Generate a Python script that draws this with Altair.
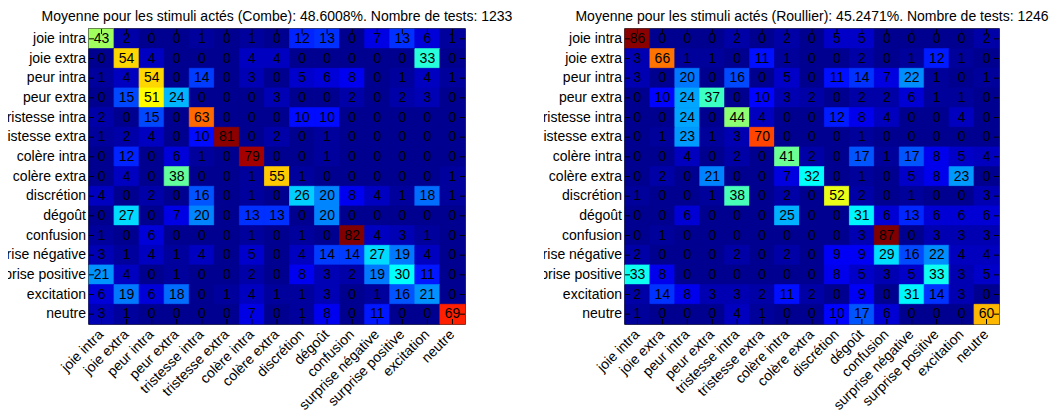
import altair as alt
import pandas as pd

labels = ["joie intra", "joie extra", "peur intra", "peur extra", "tristesse intra",
          "tristesse extra", "colère intra", "colère extra", "discrétion", "dégoût",
          "confusion", "surprise négative", "surprise positive", "excitation", "neutre"]

# Combe: rows = stimulus, columns = answer
combe = [
    [43, 2, 0, 0, 1, 0, 1, 0, 12, 13, 0, 7, 13, 6, 1],
    [0, 54, 4, 0, 0, 0, 4, 4, 0, 0, 0, 0, 0, 33, 0],
    [1, 4, 54, 0, 14, 0, 3, 0, 5, 6, 8, 0, 1, 4, 1],
    [0, 15, 51, 24, 0, 0, 0, 3, 0, 0, 2, 0, 2, 3, 0],
    [2, 0, 15, 0, 63, 0, 0, 0, 10, 10, 0, 0, 0, 0, 0],
    [1, 2, 4, 0, 10, 81, 0, 2, 0, 1, 0, 0, 0, 0, 0],
    [0, 12, 0, 6, 1, 0, 79, 0, 0, 1, 0, 0, 0, 0, 0],
    [0, 4, 0, 38, 0, 0, 1, 55, 1, 0, 0, 0, 0, 0, 1],
    [4, 0, 2, 0, 16, 0, 1, 0, 26, 20, 8, 4, 1, 18, 1],
    [0, 27, 0, 7, 20, 0, 13, 13, 0, 20, 0, 0, 0, 0, 0],
    [1, 0, 6, 0, 0, 0, 1, 0, 1, 0, 82, 4, 3, 1, 0],
    [3, 1, 4, 1, 4, 0, 5, 0, 4, 14, 14, 27, 19, 4, 0],
    [21, 4, 0, 1, 0, 0, 2, 0, 8, 3, 2, 19, 30, 11, 0],
    [6, 19, 6, 18, 0, 1, 4, 1, 1, 3, 0, 1, 16, 21, 0],
    [3, 1, 0, 0, 0, 0, 7, 0, 1, 8, 0, 11, 0, 0, 69],
]

roullier = [
    [86, 0, 0, 0, 2, 0, 2, 0, 5, 5, 0, 0, 0, 0, 2],
    [3, 66, 1, 1, 0, 11, 1, 0, 0, 2, 0, 1, 12, 1, 0],
    [3, 0, 20, 0, 16, 0, 5, 0, 11, 14, 7, 22, 1, 0, 1],
    [0, 10, 24, 37, 0, 10, 3, 2, 0, 2, 2, 6, 1, 1, 0],
    [0, 0, 24, 0, 44, 4, 0, 0, 12, 8, 4, 0, 0, 4, 0],
    [0, 1, 23, 1, 3, 70, 0, 0, 0, 1, 0, 0, 0, 0, 0],
    [0, 0, 4, 0, 2, 0, 41, 2, 0, 17, 1, 17, 8, 5, 4],
    [0, 2, 0, 21, 0, 0, 7, 32, 0, 1, 0, 5, 8, 23, 0],
    [1, 0, 0, 1, 38, 0, 2, 0, 52, 2, 0, 1, 0, 0, 3],
    [0, 0, 6, 0, 0, 0, 25, 0, 0, 31, 6, 13, 6, 6, 6],
    [0, 1, 0, 0, 0, 0, 0, 0, 0, 3, 87, 0, 3, 3, 3],
    [2, 0, 0, 0, 2, 0, 2, 0, 9, 9, 29, 16, 22, 4, 4],
    [33, 8, 0, 0, 0, 0, 0, 0, 8, 5, 3, 5, 33, 3, 5],
    [2, 14, 8, 3, 3, 2, 11, 2, 0, 9, 0, 31, 14, 3, 0],
    [1, 0, 0, 0, 4, 1, 0, 0, 10, 17, 6, 0, 0, 0, 60],
]

title_combe = "Moyenne pour les stimuli actés (Combe): 48.6008%. Nombre de tests: 1233"
title_roullier = "Moyenne pour les stimuli actés (Roullier): 45.2471%. Nombre de tests: 1246"

JET = ["#000090", "#0000ff", "#00ffff", "#ffff00", "#ff0000", "#800000"]
JET_STOPS = [0, 7 / 63, 23 / 63, 39 / 63, 55 / 63, 1]
FONT = "Liberation Sans"
H = 295
LABW = 81


def ylabels_chart(x_pos, clip=False):
    ys = alt.Scale(domain=labels, paddingInner=0, paddingOuter=0)
    YC = alt.Y("row:N", sort=labels, scale=ys, axis=None, bandPosition=0.5)
    return alt.Chart(pd.DataFrame({"row": labels})).mark_text(
        font=FONT, fontSize=14, color="black", align="right", baseline="middle",
        clip=clip).encode(y=YC, x=alt.value(x_pos), text="row:N")


def panel(matrix, title, width, with_labels=True):
    recs = []
    for i, r in enumerate(labels):
        for j, c in enumerate(labels):
            recs.append({"row": r, "col": c, "value": matrix[i][j]})
    df = pd.DataFrame(recs)
    vmax = max(max(r) for r in matrix)
    cscale = alt.Scale(domain=[s * vmax for s in JET_STOPS], range=JET, interpolate="rgb")

    xs = alt.Scale(domain=labels, paddingInner=0, paddingOuter=0)
    ys = alt.Scale(domain=labels, paddingInner=0, paddingOuter=0)
    xaxis = alt.Axis(title=None, labelAngle=-45, labelAlign="right", labelBaseline="middle",
                     labelPadding=8, ticks=False, domain=False, labelOverlap=False,
                     labelFontSize=14, labelColor="black", labelFont=FONT)

    X = alt.X("col:N", sort=labels, scale=xs, axis=xaxis)
    Y = alt.Y("row:N", sort=labels, scale=ys, axis=None)

    base = alt.Chart(df)
    rect = base.mark_rect(strokeWidth=0.8).encode(
        x=X, y=Y,
        color=alt.Color("value:Q", scale=cscale, legend=None),
        stroke=alt.Stroke("value:Q", scale=cscale, legend=None))
    text = base.mark_text(font=FONT, fontSize=14, color="black").encode(
        x=X, y=Y, text="value:Q")

    rows_df = pd.DataFrame({"row": labels})
    cols_df = pd.DataFrame({"col": labels})
    YC = alt.Y("row:N", sort=labels, scale=ys, axis=None, bandPosition=0.5)
    XC = alt.X("col:N", sort=labels, scale=xs, axis=xaxis, bandPosition=0.5)
    tick_l = alt.Chart(rows_df).mark_rule(color="black", strokeWidth=1).encode(
        y=YC, x=alt.value(0), x2=alt.value(5))
    tick_r = alt.Chart(rows_df).mark_rule(color="black", strokeWidth=1).encode(
        y=YC, x=alt.value(width - 5), x2=alt.value(width))
    tick_t = alt.Chart(cols_df).mark_rule(color="black", strokeWidth=1).encode(
        x=XC, y=alt.value(0), y2=alt.value(5))
    tick_b = alt.Chart(cols_df).mark_rule(color="black", strokeWidth=1).encode(
        x=XC, y=alt.value(H - 5), y2=alt.value(H))
    ttl = alt.Chart(pd.DataFrame({"t": [title]})).mark_text(
        font=FONT, fontSize=14, color="black", align="center", baseline="alphabetic").encode(
        x=alt.value(width / 2), y=alt.value(-8), text="t:N")

    layers = [rect, text, tick_l, tick_r, tick_t, tick_b, ttl]
    if with_labels:
        layers.append(ylabels_chart(-3))
    return alt.layer(*layers).properties(
        width=width, height=H,
        view=alt.ViewBackground(fill="#000090", stroke="black", strokeWidth=1.5),
    )


left = panel(combe, title_combe, 376)
right = panel(roullier, title_roullier, 374, with_labels=False)

# labels of the right panel, clipped on their left like in the reference
right_labels = ylabels_chart(LABW - 3, clip=True).properties(
    width=LABW, height=H,
    view=alt.ViewBackground(stroke="transparent", strokeWidth=0),
)

right_group = alt.hconcat(right_labels, right, spacing=0, bounds="flush").resolve_scale(
    color="independent", stroke="independent"
)

chart = alt.hconcat(left, right_group, spacing=160 - LABW, bounds="flush").resolve_scale(
    color="independent", stroke="independent"
).properties(
    padding={"left": 81, "top": 21, "right": 960, "bottom": 380},
    autosize=alt.AutoSizeParams(type="none"),
).configure_view(
    stroke="black", strokeWidth=1.5
).configure(
    font=FONT
)

chart.save("out.html", embed_options={"renderer": "svg", "actions": False})
